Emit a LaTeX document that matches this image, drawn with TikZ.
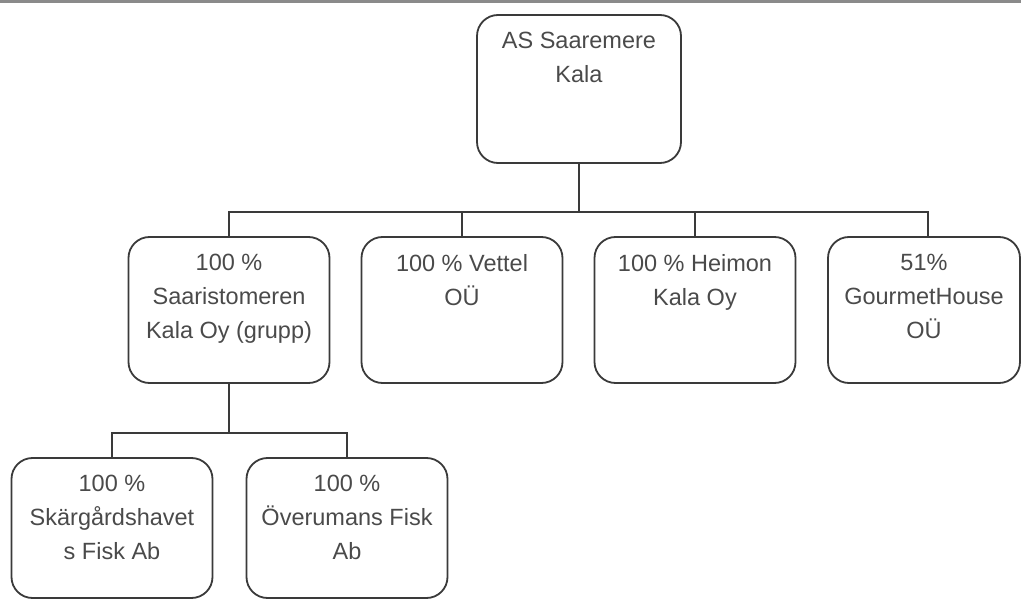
\documentclass[tikz,border=0pt]{standalone}
\usepackage{fontspec}
\setmainfont{Liberation Sans}
\usetikzlibrary{calc}
\definecolor{edgec}{HTML}{3A3A3A}
\definecolor{inkc}{HTML}{4A4A4A}
\definecolor{rulec}{HTML}{8A8A8A}
\begin{document}
\begin{tikzpicture}[x=1pt,y=-1pt,
  box/.style={draw=edgec, line width=1.8pt, rounded corners=21pt, minimum width=201pt, minimum height=146pt, inner sep=0pt},
  txt/.style={text=inkc, font=\fontsize{23.5}{34}\selectfont, align=center, inner sep=0pt, anchor=north},
  link/.style={draw=edgec, line width=2.8pt}]
\useasboundingbox (0,0) rectangle (1021,599);
\draw[rulec, line width=3.5pt] (0,1.5) -- (1021,1.5);
% boxes
\node[box, minimum width=204pt, minimum height=148pt] (root) at (579,89) {};
\node[box] (saar) at (229,310) {};
\node[box] (vet) at (462,310) {};
\node[box] (hei) at (695,310) {};
\node[box, minimum width=192pt] (gour) at (924,310) {};
\node[box, minimum height=140pt] (skar) at (112,528) {};
\node[box, minimum height=140pt] (over) at (347,528) {};
% texts
\node[txt] (rootT) at ([yshift=-18pt]root.north) {AS Saaremere\\Kala};
\node[txt] (saarT) at ([yshift=-18pt]saar.north) {100 \%\\Saaristomeren\\Kala Oy (grupp)};
\node[txt] (vetT) at ([yshift=-18pt]vet.north) {100 \% Vettel\\OÜ};
\node[txt] (heiT) at ([yshift=-18pt]hei.north) {100 \% Heimon\\Kala Oy};
\node[txt] (gourT) at ([yshift=-18pt]gour.north) {51\%\\GourmetHouse\\OÜ};
\node[txt] (skarT) at ([yshift=-18pt]skar.north) {100 \%\\Skärgårdshavet\\s Fisk Ab};
\node[txt] (overT) at ([yshift=-18pt]over.north) {100 \%\\Överumans Fisk\\Ab};
% connectors
\coordinate (bus) at (579,212);
\coordinate (bus2) at (229,433);
\draw[link] (root.south) -- (bus);
\draw[link] (bus) -| (saar.north);
\draw[link] (bus) -| (vet.north);
\draw[link] (bus) -| (hei.north);
\draw[link] (bus) -| ([xshift=4pt]gour.north);
\draw[link] (saar.south) -- (bus2);
\draw[link] (bus2) -| (skar.north);
\draw[link] (bus2) -| (over.north);
\end{tikzpicture}
\end{document}
